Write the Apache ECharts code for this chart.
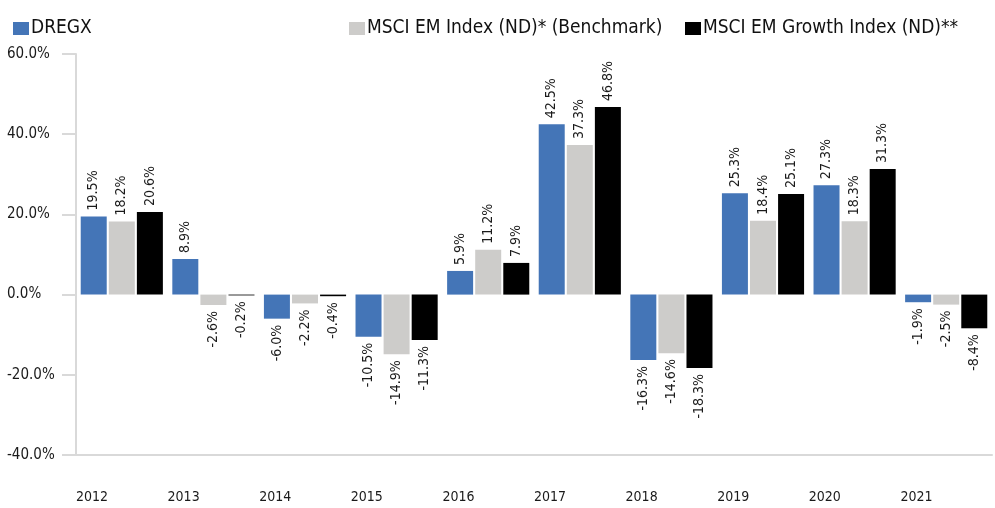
<!DOCTYPE html>
<html>
<head>
<meta charset="utf-8">
<script src="https://cdn.jsdelivr.net/npm/echarts@6/dist/echarts.min.js"></script>
<style>
  html, body { margin: 0; padding: 0; background: #fff; }
  #chartsdiv { width: 995px; height: 508px; }
</style>
</head>
<body>
<div id="chartsdiv"></div>
<script>
// data
var years = ['2012', '2013', '2014', '2015', '2016', '2017', '2018', '2019', '2020', '2021'];
var dregx = [19.5, 8.9, -6.0, -10.5, 5.9, 42.5, -16.3, 25.3, 27.3, -1.9];
var msciEm = [18.2, -2.6, -2.2, -14.9, 11.2, 37.3, -14.6, 18.4, 18.3, -2.5];
var msciGrowth = [20.6, -0.2, -0.4, -11.3, 7.9, 46.8, -18.3, 25.1, 31.3, -8.4];
var names = ['DREGX', 'MSCI EM Index (ND)* (Benchmark)', 'MSCI EM Growth Index (ND)**'];
var colors = ['#4475b7', '#cdccca', '#000000'];

var font = '"Liberation Sans Narrow", "DejaVu Sans Condensed", sans-serif';

// labels above for positive, below for negative
function withLabels(arr) {
    return arr.map(function (v) {
        var pos = v >= 0;
        return {
            value: v,
            label: {
                position: pos ? 'top' : 'bottom',
                align: pos ? 'left' : 'right'
            }
        };
    });
}

function makeSeries(i, arr) {
    return {
        name: names[i],
        type: 'bar',
        data: withLabels(arr),
        barWidth: 26,
        barGap: '8%',
        itemStyle: { color: colors[i] },
        label: {
            show: true,
            rotate: 90,
            verticalAlign: 'middle',
            distance: 6,
            color: '#1a1a1a',
            fontFamily: font,
            fontSize: 14,
            formatter: function (p) { return p.value.toFixed(1) + '%'; }
        }
    };
}

function makeLegend(i, left) {
    return {
        left: left,
        top: 14,
        data: [names[i]],
        icon: 'rect',
        itemWidth: 16,
        itemHeight: 13,
        itemGap: 0,
        selectedMode: false,
        textStyle: { fontFamily: font, fontSize: 19, color: '#111', padding: [0, 0, 0, -3] }
    };
}

var myChart = echarts.init(document.getElementById('chartsdiv'));
var option = {
    animation: false,
    legend: [makeLegend(0, 8), makeLegend(1, 344), makeLegend(2, 680)],
    grid: { left: 76, top: 54, width: 922, bottom: 53 },
    xAxis: [
        {
            type: 'category',
            data: years,
            axisLine: { onZero: false, lineStyle: { color: '#d9d9d9', width: 2 } },
            axisTick: { interval: 0, length: 33, lineStyle: { color: '#d9d9d9', width: 2 } },
            axisLabel: { show: false }
        },
        {
            type: 'category',
            position: 'bottom',
            boundaryGap: false,
            data: years.concat(['']),
            axisLine: { show: false },
            axisTick: { show: false },
            axisLabel: {
                interval: 0,
                align: 'left',
                margin: 35,
                color: '#1a1a1a',
                fontFamily: font,
                fontSize: 14
            }
        }
    ],
    yAxis: {
        type: 'value',
        min: -40,
        max: 60,
        interval: 20,
        splitLine: { show: false },
        axisLine: { show: true, lineStyle: { color: '#d9d9d9', width: 2 } },
        axisTick: { show: true, length: 14, lineStyle: { color: '#d9d9d9', width: 2 } },
        axisLabel: {
            align: 'left',
            margin: 69,
            color: '#1a1a1a',
            fontFamily: font,
            fontSize: 15,
            formatter: function (v) { return v.toFixed(1) + '%'; }
        }
    },
    series: [
        makeSeries(0, dregx),
        makeSeries(1, msciEm),
        makeSeries(2, msciGrowth)
    ]
};
myChart.setOption(option);
</script>
</body>
</html>
